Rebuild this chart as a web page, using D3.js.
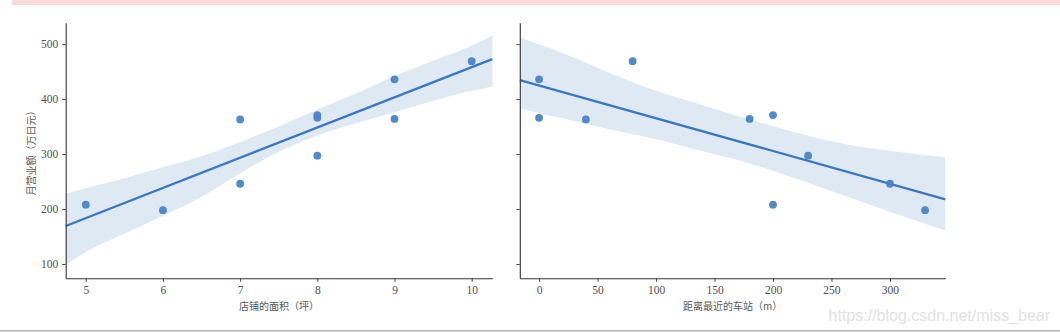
<!DOCTYPE html>
<html>
<head>
<meta charset="utf-8">
<script src="https://cdn.jsdelivr.net/npm/d3@7/dist/d3.min.js"></script>
<style>
  html, body { margin: 0; padding: 0; background: #fff; }
  svg { display: block; }
  .tick-label { font-family: "Liberation Serif", "DejaVu Serif", serif; font-size: 11.5px; fill: #505050; }
  .axis-title { font-family: "Noto Sans CJK SC", sans-serif; font-size: 10px; fill: #5a5a5a; }
</style>
</head>
<body>
<svg id="chart" width="1060" height="333"></svg>
<script>
// Store survey: floor area (tsubo), distance to nearest station (m), monthly sales (10k JPY)
const areaValues     = [10, 8, 8, 5, 7, 8, 7, 9, 6, 9];
const distanceValues = [80, 0, 200, 200, 300, 230, 40, 0, 330, 180];
const salesValues    = [469, 366, 371, 208, 246, 297, 363, 436, 198, 364];

const areaTicks     = [5, 6, 7, 8, 9, 10];
const distanceTicks = [0, 50, 100, 150, 200, 250, 300];
const salesTicks    = [100, 200, 300, 400, 500];

// Bootstrapped 95% confidence band of the fit
const areaBandX     = [4.74, 5, 5.5, 6, 6.5, 7, 7.5, 8, 8.5, 9, 9.5, 10, 10.27];
const areaBandLower = [98, 122, 155, 188, 222, 265, 304, 334, 356, 376, 397, 415, 423];
const areaBandUpper = [228, 238, 256, 276, 296, 322, 350, 381, 410, 442, 470, 497, 516];

const distanceBandX     = [-16.5, 20, 60, 100, 140, 180, 220, 260, 300, 347.3];
const distanceBandLower = [383, 365, 345, 327, 305, 283, 255, 225, 195, 161];
const distanceBandUpper = [512, 484, 448, 415, 389, 363, 339, 319, 306, 294];

const xTitleLeft  = "店铺的面积（坪）";
const xTitleRight = "距离最近的车站（m）";
const yTitle      = "月营业额（万日元）";

const lineColor = "#3b77bc";
const dotColor  = "#4a84c4";

const svg = d3.select("#chart");

// page furniture
svg.append("rect").attr("x", 12).attr("y", 0).attr("width", 1048).attr("height", 5).attr("fill", "#f9dbdb");
svg.append("rect").attr("x", 0).attr("y", 330).attr("width", 1060).attr("height", 1.5).attr("fill", "#b4b4b4");
svg.append("text")
  .attr("x", 1050).attr("y", 321)
  .attr("text-anchor", "end")
  .style("font-family", "'Liberation Sans', Arial, sans-serif")
  .style("font-size", "16px")
  .attr("fill", "#e2e2e2")
  .text("https://blog.csdn.net/miss_bear");

const plotTop = 22.7, plotBottom = 278.3;
const y = d3.scaleLinear().domain([74, 539]).range([plotBottom, plotTop]);

function linearFit(xs, ys) {
  const mx = d3.mean(xs), my = d3.mean(ys);
  let sxy = 0, sxx = 0;
  xs.forEach((v, i) => { sxy += (v - mx) * (ys[i] - my); sxx += (v - mx) * (v - mx); });
  const slope = sxy / sxx;
  return { slope, intercept: my - slope * mx };
}

function panel(opts) {
  const x = d3.scaleLinear().domain(opts.domain).range([opts.left, opts.right]);
  const g = svg.append("g");

  // confidence band
  const band = opts.bandX.map((v, i) => ({ x: v, lo: opts.bandLower[i], hi: opts.bandUpper[i] }));
  g.append("path")
    .datum(band)
    .attr("d", d3.area().x(d => x(d.x)).y0(d => y(d.lo)).y1(d => y(d.hi)).curve(d3.curveMonotoneX))
    .attr("fill", lineColor).attr("fill-opacity", 0.16);

  // regression line
  const fit = linearFit(opts.xs, salesValues);
  const ends = opts.domain.map(v => ({ x: v, y: fit.intercept + fit.slope * v }));
  g.append("path")
    .datum(ends)
    .attr("d", d3.line().x(d => x(d.x)).y(d => y(d.y)))
    .attr("stroke", lineColor).attr("stroke-width", 2.3).attr("fill", "none");

  // observations
  g.selectAll("circle.obs")
    .data(opts.xs.map((v, i) => [v, salesValues[i]]))
    .join("circle")
    .attr("class", "obs")
    .attr("cx", d => x(d[0])).attr("cy", d => y(d[1]))
    .attr("r", 3.9)
    .attr("fill", dotColor).attr("fill-opacity", 0.95);

  // axes
  const xAxis = g.append("g").attr("transform", `translate(0,${plotBottom})`)
    .call(d3.axisBottom(x).tickValues(opts.ticks).tickSize(3.5).tickSizeOuter(0).tickPadding(4)
      .tickFormat(d3.format("d")));
  const yAxis = g.append("g").attr("transform", `translate(${opts.left},0)`)
    .call(d3.axisLeft(y).tickValues(salesTicks).tickSize(3.5).tickSizeOuter(0).tickPadding(4)
      .tickFormat(opts.showYLabels ? d3.format("d") : () => ""));
  [xAxis, yAxis].forEach(a => {
    a.select(".domain").attr("stroke", "#333").attr("stroke-width", 1.1);
    a.selectAll(".tick line").attr("stroke", "#333").attr("stroke-width", 0.9);
    a.selectAll(".tick text").attr("class", "tick-label").attr("fill", null);
    a.attr("font-family", null).attr("font-size", null);
  });

  g.append("text").attr("class", "axis-title")
    .attr("x", (opts.left + opts.right) / 2).attr("y", 310)
    .attr("text-anchor", "middle")
    .text(opts.title);
}

panel({ left: 65.7, right: 492.3, domain: [4.74, 10.267], xs: areaValues, ticks: areaTicks,
        bandX: areaBandX, bandLower: areaBandLower, bandUpper: areaBandUpper,
        title: xTitleLeft, showYLabels: true });
panel({ left: 519.8, right: 945.3, domain: [-16.5, 347.3], xs: distanceValues, ticks: distanceTicks,
        bandX: distanceBandX, bandLower: distanceBandLower, bandUpper: distanceBandUpper,
        title: xTitleRight, showYLabels: false });

svg.append("text").attr("class", "axis-title")
  .attr("transform", `translate(35,${(plotTop + plotBottom) / 2}) rotate(-90)`)
  .attr("text-anchor", "middle")
  .text(yTitle);
</script>
</body>
</html>
